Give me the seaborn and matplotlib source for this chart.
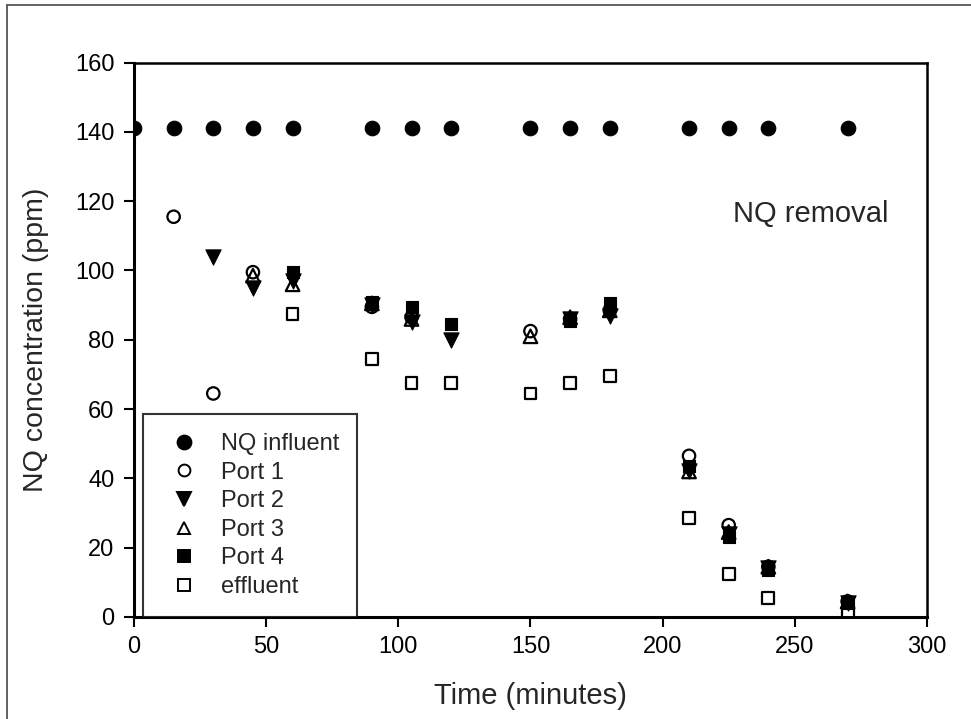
import numpy as np
import pandas as pd
import matplotlib
matplotlib.use("Agg")
import matplotlib.pyplot as plt
import seaborn as sns
from matplotlib.lines import Line2D

# data (time in minutes, NQ in ppm)
t_influent = [0, 15, 30, 45, 60, 90, 105, 120, 150, 165, 180, 210, 225, 240, 270]
nq_influent = [141] * len(t_influent)

t_port1 = [15, 30, 45, 90, 105, 150, 165, 180, 210, 225, 240, 270]
nq_port1 = [115.5, 64.5, 99.5, 89.5, 86.5, 82.5, 86, 88.5, 46.5, 26.5, 14.5, 4.5]

t_port2 = [30, 45, 60, 90, 105, 120, 165, 180, 210, 225, 240, 270]
nq_port2 = [104, 95, 97, 90, 85, 80, 86, 87, 42, 24, 14, 4]

t_port3 = [45, 60, 90, 105, 150, 165, 180, 210, 225, 240, 270]
nq_port3 = [98.5, 96, 90.5, 86, 81, 86.5, 88.5, 42, 24.5, 14.5, 4.5]

t_port4 = [60, 90, 105, 120, 165, 180, 210, 225, 240, 270]
nq_port4 = [99.5, 91, 89.5, 84.5, 85.5, 90.5, 43.5, 23, 13.5, 4]

t_effluent = [60, 90, 105, 120, 150, 165, 180, 210, 225, 240, 270]
nq_effluent = [87.5, 74.5, 67.5, 67.5, 64.5, 67.5, 69.5, 28.5, 12.5, 5.5, 1.5]

names = ["NQ influent", "Port 1", "Port 2", "Port 3", "Port 4", "effluent"]
times = [t_influent, t_port1, t_port2, t_port3, t_port4, t_effluent]
values = [nq_influent, nq_port1, nq_port2, nq_port3, nq_port4, nq_effluent]

# marker, filled?, size
styles = {
    "NQ influent": ("o", True, 110),
    "Port 1": ("o", False, 80),
    "Port 2": ("v", True, 120),
    "Port 3": ("^", False, 95),
    "Port 4": ("s", True, 85),
    "effluent": ("s", False, 72),
}

sns.set_style("white")
plt.rcParams["font.family"] = ["Liberation Sans", "DejaVu Sans"]

fig = plt.figure(figsize=(9.71, 7.19), dpi=100)
ax = fig.add_axes([0.138, 0.1419, 0.8166, 0.7711])

for name, t, v in zip(names, times, values):
    mk, filled, s = styles[name]
    df = pd.DataFrame({"time": t, "nq": v})
    if filled:
        sns.scatterplot(data=df, x="time", y="nq", marker=mk, s=s, color="black",
                        edgecolor="black", linewidth=0.8, ax=ax, zorder=3)
    else:
        sns.scatterplot(data=df, x="time", y="nq", marker=mk, s=s, facecolors="none",
                        edgecolor="black", linewidth=1.6, ax=ax, zorder=3)

ax.set_xlim(0, 300)
ax.set_ylim(0, 160)
ax.set_xticks(np.arange(0, 301, 50))
ax.set_yticks(np.arange(0, 161, 20))
ax.tick_params(axis="both", direction="out", length=7, width=1.5, labelsize=17,
               colors="black", pad=7, left=True, bottom=True)
for side in ["left", "bottom"]:
    ax.spines[side].set_linewidth(2.2)
for side in ["top", "right"]:
    ax.spines[side].set_linewidth(1.8)
for sp in ax.spines.values():
    sp.set_color("black")
    sp.set_visible(True)

ax.set_xlabel("Time (minutes)", fontsize=21)
ax.set_ylabel("NQ concentration (ppm)", fontsize=20.5)
ax.xaxis.set_label_coords(0.5, -0.117)
ax.yaxis.set_label_coords(-0.107, 0.5)

ax.text(256, 116.3, "NQ removal", fontsize=21, ha="center", va="center")

handles = []
for name in names:
    mk, filled, s = styles[name]
    handles.append(Line2D([], [], linestyle="none", marker=mk,
                          markersize=np.sqrt(s) * 0.95,
                          markerfacecolor="black" if filled else "none",
                          markeredgecolor="black", markeredgewidth=1.4))
leg = ax.legend(handles, names, loc="lower left", bbox_to_anchor=(0.0113, 0.0, 0.27, 0.37),
                mode="expand", fontsize=17, frameon=True, fancybox=False,
                borderaxespad=0, labelspacing=0.28, handletextpad=0.6,
                borderpad=0.8, handlelength=1.9)
leg.get_frame().set_edgecolor("black")
leg.get_frame().set_linewidth(1.5)

# outer figure border (top and left visible in the reference)
fig.add_artist(Line2D([7 / 971, 1.0], [1 - 5 / 719, 1 - 5 / 719], color="#555555",
                      linewidth=1.3, transform=fig.transFigure))
fig.add_artist(Line2D([7 / 971, 7 / 971], [0.0, 1 - 5 / 719], color="#555555",
                      linewidth=1.3, transform=fig.transFigure))

fig.savefig("out.png", dpi=100)
